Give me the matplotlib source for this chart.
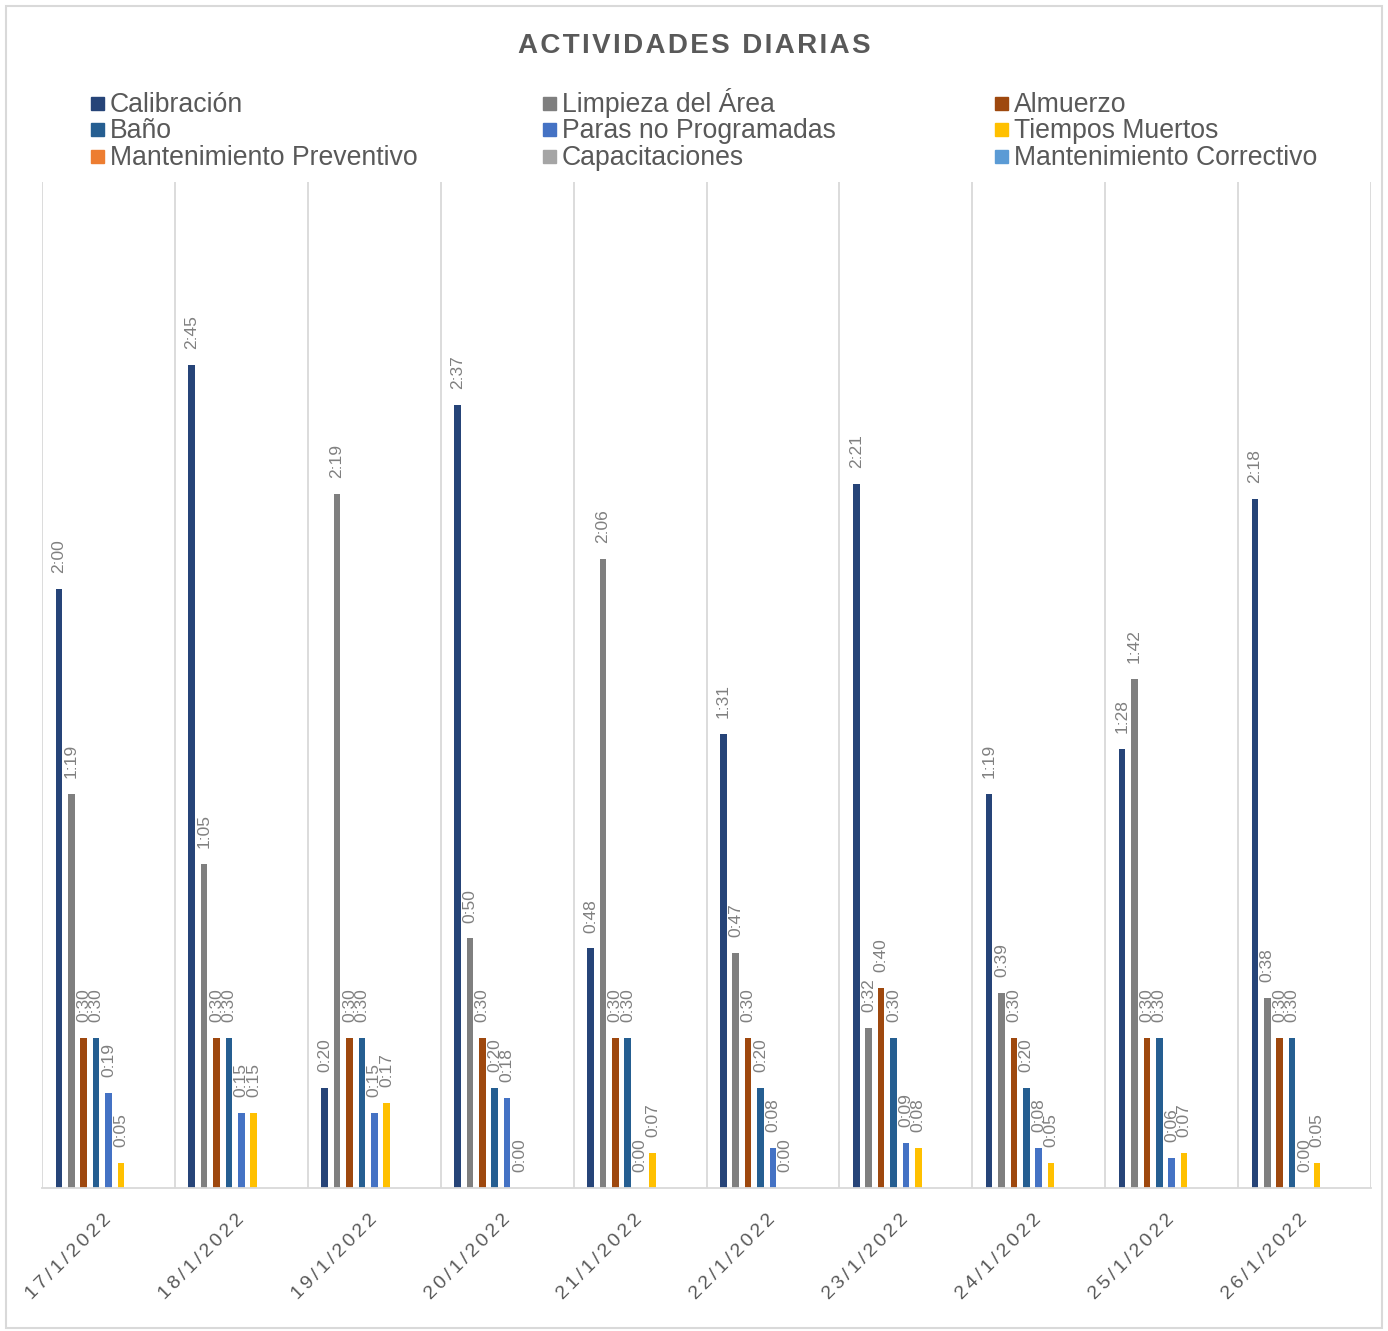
import numpy as np
import matplotlib
matplotlib.use("Agg")
import matplotlib.pyplot as plt
from matplotlib.patches import Rectangle
from matplotlib.transforms import ScaledTranslation

plt.rcParams['font.family'] = ['Liberation Sans', 'DejaVu Sans']

fechas = ["17/1/2022", "18/1/2022", "19/1/2022", "20/1/2022", "21/1/2022",
          "22/1/2022", "23/1/2022", "24/1/2022", "25/1/2022", "26/1/2022"]

# minutos por actividad y dia
calibracion = [120, 165, 20, 157, 48, 91, 141, 79, 88, 138]
limpieza = [79, 65, 139, 50, 126, 47, 32, 39, 102, 38]
almuerzo = [30, 30, 30, 30, 30, 30, 40, 30, 30, 30]
bano = [30, 30, 30, 20, 30, 20, 30, 20, 30, 30]
paras = [19, 15, 15, 18, 0, 8, 9, 8, 6, 0]
tiempos_muertos = [5, 15, 17, 0, 7, 0, 8, 5, 7, 5]
mant_preventivo = [None] * 10
capacitaciones = [None] * 10
mant_correctivo = [None] * 10

series = ["Calibración", "Limpieza del Área", "Almuerzo", "Baño",
          "Paras no Programadas", "Tiempos Muertos",
          "Mantenimiento Preventivo", "Capacitaciones", "Mantenimiento Correctivo"]
valores = [calibracion, limpieza, almuerzo, bano, paras, tiempos_muertos,
           mant_preventivo, capacitaciones, mant_correctivo]
colores = ["#264478", "#7F7F7F", "#9E480E", "#255E91", "#4472C4",
           "#FFC000", "#ED7D31", "#A5A5A5", "#5B9BD5"]

W, H = 1388, 1331


def hhmm(m):
    return "%d:%02d" % (m // 60, m % 60)


def espaciado(s, sep="\u200a"):
    return sep.join(s)


fig = plt.figure(figsize=(W / 100, H / 100), dpi=100)
ax = fig.add_axes([42 / W, 143 / H, 1329 / W, 1006 / H])

x = np.arange(len(fechas))
paso = 0.0933
ancho = 0.05
for i, (nombre, vals, c) in enumerate(zip(series, valores, colores)):
    h = np.array([np.nan if v is None else v for v in vals], dtype=float)
    cont = ax.bar(x + (i - 4) * paso, h, ancho, color=c, label=nombre)
    etiquetas = ["" if v is None else hhmm(v) for v in vals]
    ax.bar_label(cont, labels=etiquetas, padding=11.5, rotation=90,
                 fontsize=12.5, color="#808080")

ax.set_xlim(-0.5, 9.5)
ax.set_ylim(0, 201.6)
ax.set_yticks([])
ax.set_xticks(x)
ax.set_xticklabels([espaciado(f, "\u2006") for f in fechas], rotation=45,
                   ha="right", va="center", rotation_mode="anchor",
                   fontsize=14, color="#595959")
off = ScaledTranslation(6 / 100, 0, fig.dpi_scale_trans)
for t in ax.get_xticklabels():
    t.set_transform(t.get_transform() + off)
ax.tick_params(axis="x", length=0, pad=21)
ax.set_xticks(np.arange(-0.5, 10, 1), minor=True)
ax.tick_params(axis="x", which="minor", length=0)
ax.grid(axis="x", which="minor", color="#D9D9D9", lw=1.3)
ax.set_axisbelow(True)
for s in ["left", "right", "top"]:
    ax.spines[s].set_visible(False)
ax.spines["bottom"].set_color("#D9D9D9")
ax.spines["bottom"].set_linewidth(1.3)

fig.text(0.5, 1 - 53 / H, espaciado("ACTIVIDADES DIARIAS"), ha="center",
         va="baseline", fontsize=20, fontweight="bold", color="#595959")

# leyenda: tres columnas, se lee por filas
cols_x = [91, 543, 995]
filas_y = [112, 138, 165]
for j, (nombre, c) in enumerate(zip(series, colores)):
    cx = cols_x[j % 3]
    by = filas_y[j // 3]
    fig.patches.append(Rectangle((cx / W, 1 - (by - 2) / H), 13 / W, 13 / H,
                                 transform=fig.transFigure, color=c))
    fig.text((cx + 19) / W, 1 - by / H, nombre, ha="left", va="baseline",
             fontsize=19.2, color="#595959")

fig.patches.append(Rectangle((6 / W, 3 / H), 1376 / W, 1322 / H,
                             transform=fig.transFigure, fill=False,
                             edgecolor="#D9D9D9", lw=1.5))

fig.savefig("out.png", dpi=100)
